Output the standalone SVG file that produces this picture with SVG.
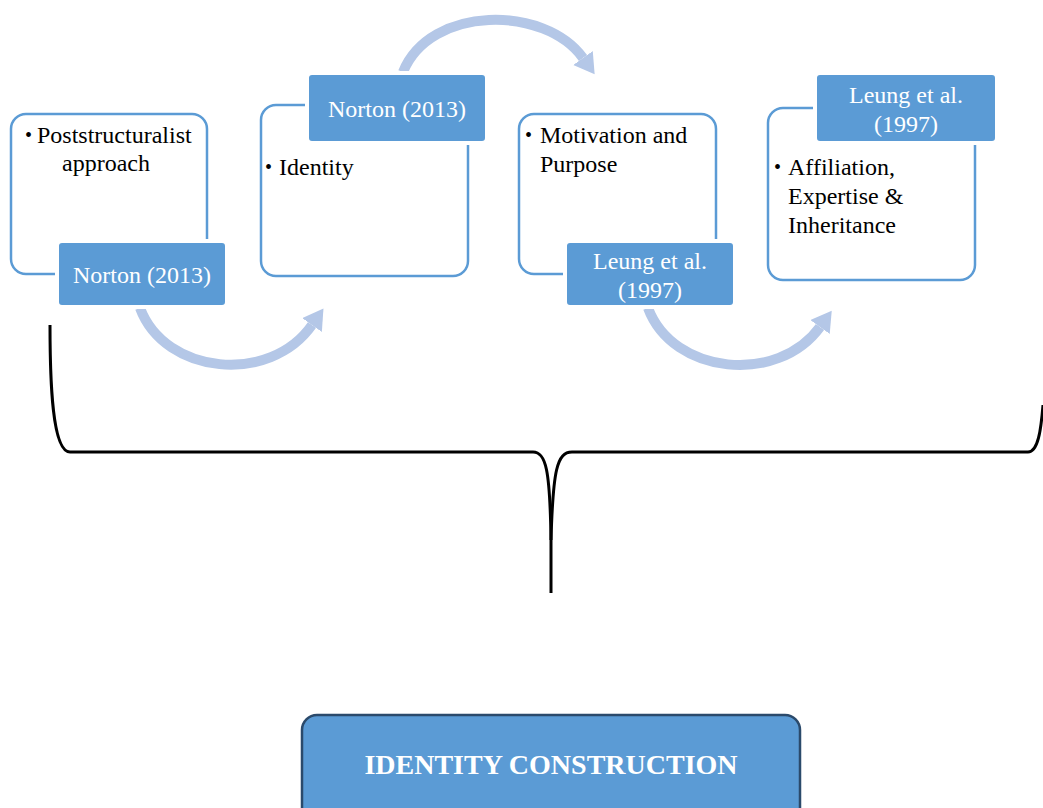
<svg xmlns="http://www.w3.org/2000/svg" width="1043" height="808" viewBox="0 0 1043 808">
<style>
.box{fill:#fff;stroke:#5b9bd5;stroke-width:2.5}
.lbl{fill:#5b9bd5;stroke:#fff;stroke-width:4}
.t{font-family:"Liberation Serif",serif;font-size:24px;fill:#000}
.b{font-family:"Liberation Serif",serif;font-size:20px;fill:#000}
.w{font-family:"Liberation Serif",serif;font-size:24px;fill:#fff;text-anchor:middle}
.arc{fill:none;stroke:#b4c7e7;stroke-width:10}
.brace{fill:none;stroke:#000;stroke-width:3;stroke-linejoin:round}
</style>
<defs>
<marker id="ah" markerUnits="userSpaceOnUse" markerWidth="22" markerHeight="26" refX="0" refY="12" orient="auto">
<path d="M0,0 L20,12 L0,24 z" fill="#b4c7e7"/>
</marker>
</defs>
<g id="connectors">
<path class="arc" d="M403,72 C430,5 545,5 583,58" marker-end="url(#ah)"/>
<path class="arc" d="M140,308 C165,375 270,385 312,325" marker-end="url(#ah)"/>
<path class="arc" d="M648,308 C673,375 778,385 820,327" marker-end="url(#ah)"/>
<path class="brace" d="M50,325 C50,380 52,452 70,452 L533,452 C546,452 550,470 551,540 L551,593"/>
<path class="brace" d="M572,452 C557,452 553,470 551,540"/>
<path class="brace" d="M572,452 L1028,452 C1038,452 1041,430 1043,405"/>
</g>
<g id="node1">
<rect class="box" x="11" y="114" width="196" height="160" rx="15"/>
<text class="b" x="25" y="142">•</text>
<text class="t" x="37" y="143">Poststructuralist</text>
<text class="t" x="62" y="171">approach</text>
</g>
<g id="label1">
<rect class="lbl" x="57" y="241" width="170" height="66" rx="5"/>
<text class="w" x="142" y="283">Norton (2013)</text>
</g>
<g id="node2">
<rect class="box" x="261" y="105" width="207" height="171" rx="15"/>
<text class="b" x="265" y="174">•</text>
<text class="t" x="279" y="175">Identity</text>
</g>
<g id="label2">
<rect class="lbl" x="307" y="73" width="180" height="70" rx="5"/>
<text class="w" x="397" y="117">Norton (2013)</text>
</g>
<g id="node3">
<rect class="box" x="519" y="114" width="197" height="160" rx="15"/>
<text class="b" x="525" y="142">•</text>
<text class="t" x="540" y="143">Motivation and</text>
<text class="t" x="540" y="172">Purpose</text>
</g>
<g id="label3">
<rect class="lbl" x="565" y="241" width="170" height="66" rx="5"/>
<text class="w" x="650" y="269">Leung et al.</text>
<text class="w" x="650" y="298">(1997)</text>
</g>
<g id="node4">
<rect class="box" x="768" y="108" width="207" height="172" rx="15"/>
<text class="b" x="774" y="174">•</text>
<text class="t" x="788" y="175">Affiliation,</text>
<text class="t" x="788" y="204">Expertise &amp;</text>
<text class="t" x="788" y="233">Inheritance</text>
</g>
<g id="label4">
<rect class="lbl" x="815" y="73" width="182" height="70" rx="5"/>
<text class="w" x="906" y="103">Leung et al.</text>
<text class="w" x="906" y="132">(1997)</text>
</g>
<g id="identity">
<rect x="302" y="715" width="498" height="110" rx="15" fill="#5b9bd5" stroke="#2b4a6b" stroke-width="2.5"/>
<text x="551" y="774" text-anchor="middle" font-family="'Liberation Serif',serif" font-size="28" font-weight="bold" fill="#fff">IDENTITY CONSTRUCTION</text>
</g>
</svg>
